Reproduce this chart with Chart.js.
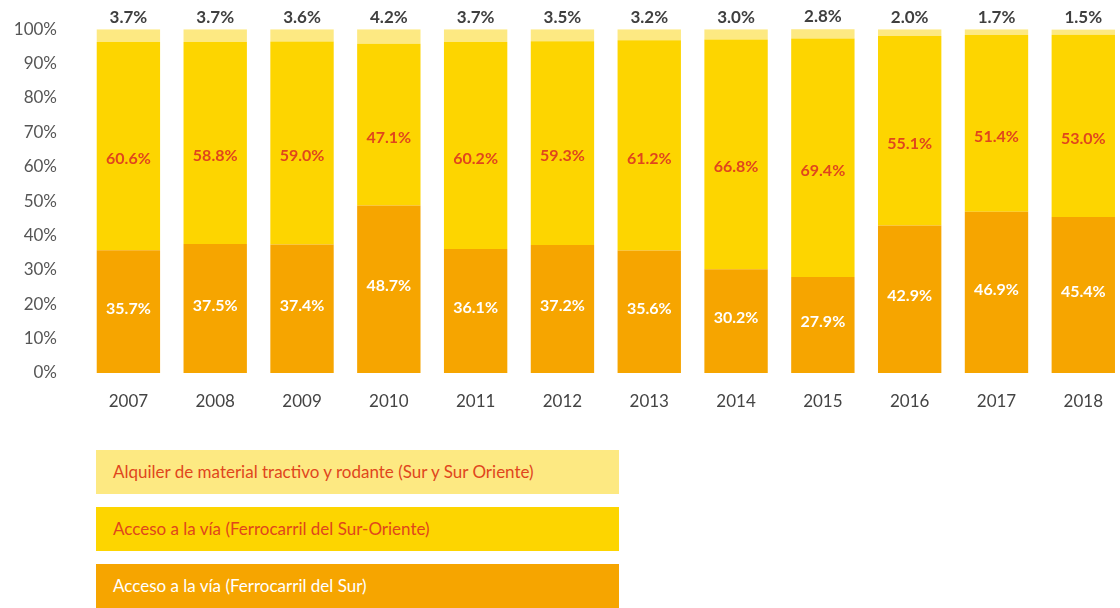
<!DOCTYPE html>
<html>
<head>
<meta charset="utf-8">
<script src="https://cdn.jsdelivr.net/npm/chart.js@4/dist/chart.umd.min.js"></script>
<style>
  body { margin: 0; background: #fff; overflow: hidden; width: 1120px; height: 608px; position: relative; }
  #wrap { position: absolute; left: 0; top: 0; width: 1120px; height: 430px; overflow: hidden; }
  #chart { display: block; margin-top: -9px; }
  #legend { position: absolute; left: 96px; top: 450px; }
  .item { width: 523px; height: 44px; margin-bottom: 13px; box-sizing: border-box; padding-left: 17px;
          font-family: Lato, "Open Sans", sans-serif; font-size: 17px; line-height: 44px; }
</style>
</head>
<body>
<div id="wrap"><canvas id="chart" width="1135" height="439"></canvas></div>
<div id="legend"></div>
<script>
// Datos
const years = ['2007', '2008', '2009', '2010', '2011', '2012', '2013', '2014', '2015', '2016', '2017', '2018'];
const accesoSur = [35.7, 37.5, 37.4, 48.7, 36.1, 37.2, 35.6, 30.2, 27.9, 42.9, 46.9, 45.4];
const accesoSurOriente = [60.6, 58.8, 59.0, 47.1, 60.2, 59.3, 61.2, 66.8, 69.4, 55.1, 51.4, 53.0];
const alquiler = [3.7, 3.7, 3.6, 4.2, 3.7, 3.5, 3.2, 3.0, 2.8, 2.0, 1.7, 1.5];
const seriesNames = [
    'Acceso a la vía (Ferrocarril del Sur)',
    'Acceso a la vía (Ferrocarril del Sur-Oriente)',
    'Alquiler de material tractivo y rodante (Sur y Sur Oriente)'
];

const colors = ['#F6A500', '#FDD500', '#FDE982'];
const labelColors = ['#ffffff', '#E0461C', '#3f3f3f'];
const fontFamily = 'Lato, "Open Sans", sans-serif';

// Plugin para etiquetas de valores
const valueLabels = {
    id: 'valueLabels',
    afterDatasetsDraw(chart) {
        const ctx = chart.ctx;
        ctx.save();
        ctx.textAlign = 'center';
        ctx.textBaseline = 'middle';
        chart.data.datasets.forEach((ds, i) => {
            const meta = chart.getDatasetMeta(i);
            ctx.font = 'bold ' + (i === 2 ? 17 : 16) + 'px ' + fontFamily;
            meta.data.forEach((bar, j) => {
                let y;
                if (i === 0) y = (bar.y + bar.base) / 2 - 3;
                else if (i === 1) y = (bar.y + bar.base) / 2 + 13;
                else y = bar.y - 12;
                ctx.fillStyle = labelColors[i];
                ctx.fillText(ds.data[j].toFixed(1) + '%', bar.x, y);
            });
        });
        ctx.restore();
    }
};

const chart = new Chart(document.getElementById('chart'), {
    type: 'bar',
    data: {
        labels: years,
        datasets: [
            { label: seriesNames[0], data: accesoSur, backgroundColor: colors[0] },
            { label: seriesNames[1], data: accesoSurOriente, backgroundColor: colors[1] },
            { label: seriesNames[2], data: alquiler, backgroundColor: colors[2] }
        ]
    },
    options: {
        responsive: false,
        animation: false,
        layout: { padding: { top: 0, right: 8.3, left: 0, bottom: 0 } },
        datasets: { bar: { barPercentage: 0.73, categoryPercentage: 1 } },
        scales: {
            x: {
                stacked: true,
                grid: { display: false, drawTicks: false },
                border: { display: false },
                afterFit: s => { s.height = 57; },
                ticks: {
                    autoSkip: false,
                    maxRotation: 0,
                    padding: 18,
                    color: '#444',
                    font: { family: fontFamily, size: 17 }
                }
            },
            y: {
                stacked: true,
                min: 0,
                max: 100,
                grid: { display: false, drawTicks: false },
                border: { display: false },
                afterFit: s => { s.width = 85; },
                ticks: {
                    stepSize: 10,
                    padding: 28,
                    color: '#555',
                    font: { family: fontFamily, size: 17 },
                    callback: v => v + '%'
                }
            }
        },
        plugins: {
            legend: { display: false },
            tooltip: { enabled: false }
        }
    },
    plugins: [valueLabels]
});

// Leyenda en HTML (de arriba hacia abajo)
const legendEl = document.getElementById('legend');
const legendText = ['#ffffff', '#E0461C', '#E0461C'];
for (let i = chart.data.datasets.length - 1; i >= 0; i--) {
    const div = document.createElement('div');
    div.className = 'item';
    div.style.background = chart.data.datasets[i].backgroundColor;
    div.style.color = legendText[i];
    div.textContent = chart.data.datasets[i].label;
    legendEl.appendChild(div);
}
</script>
</body>
</html>
